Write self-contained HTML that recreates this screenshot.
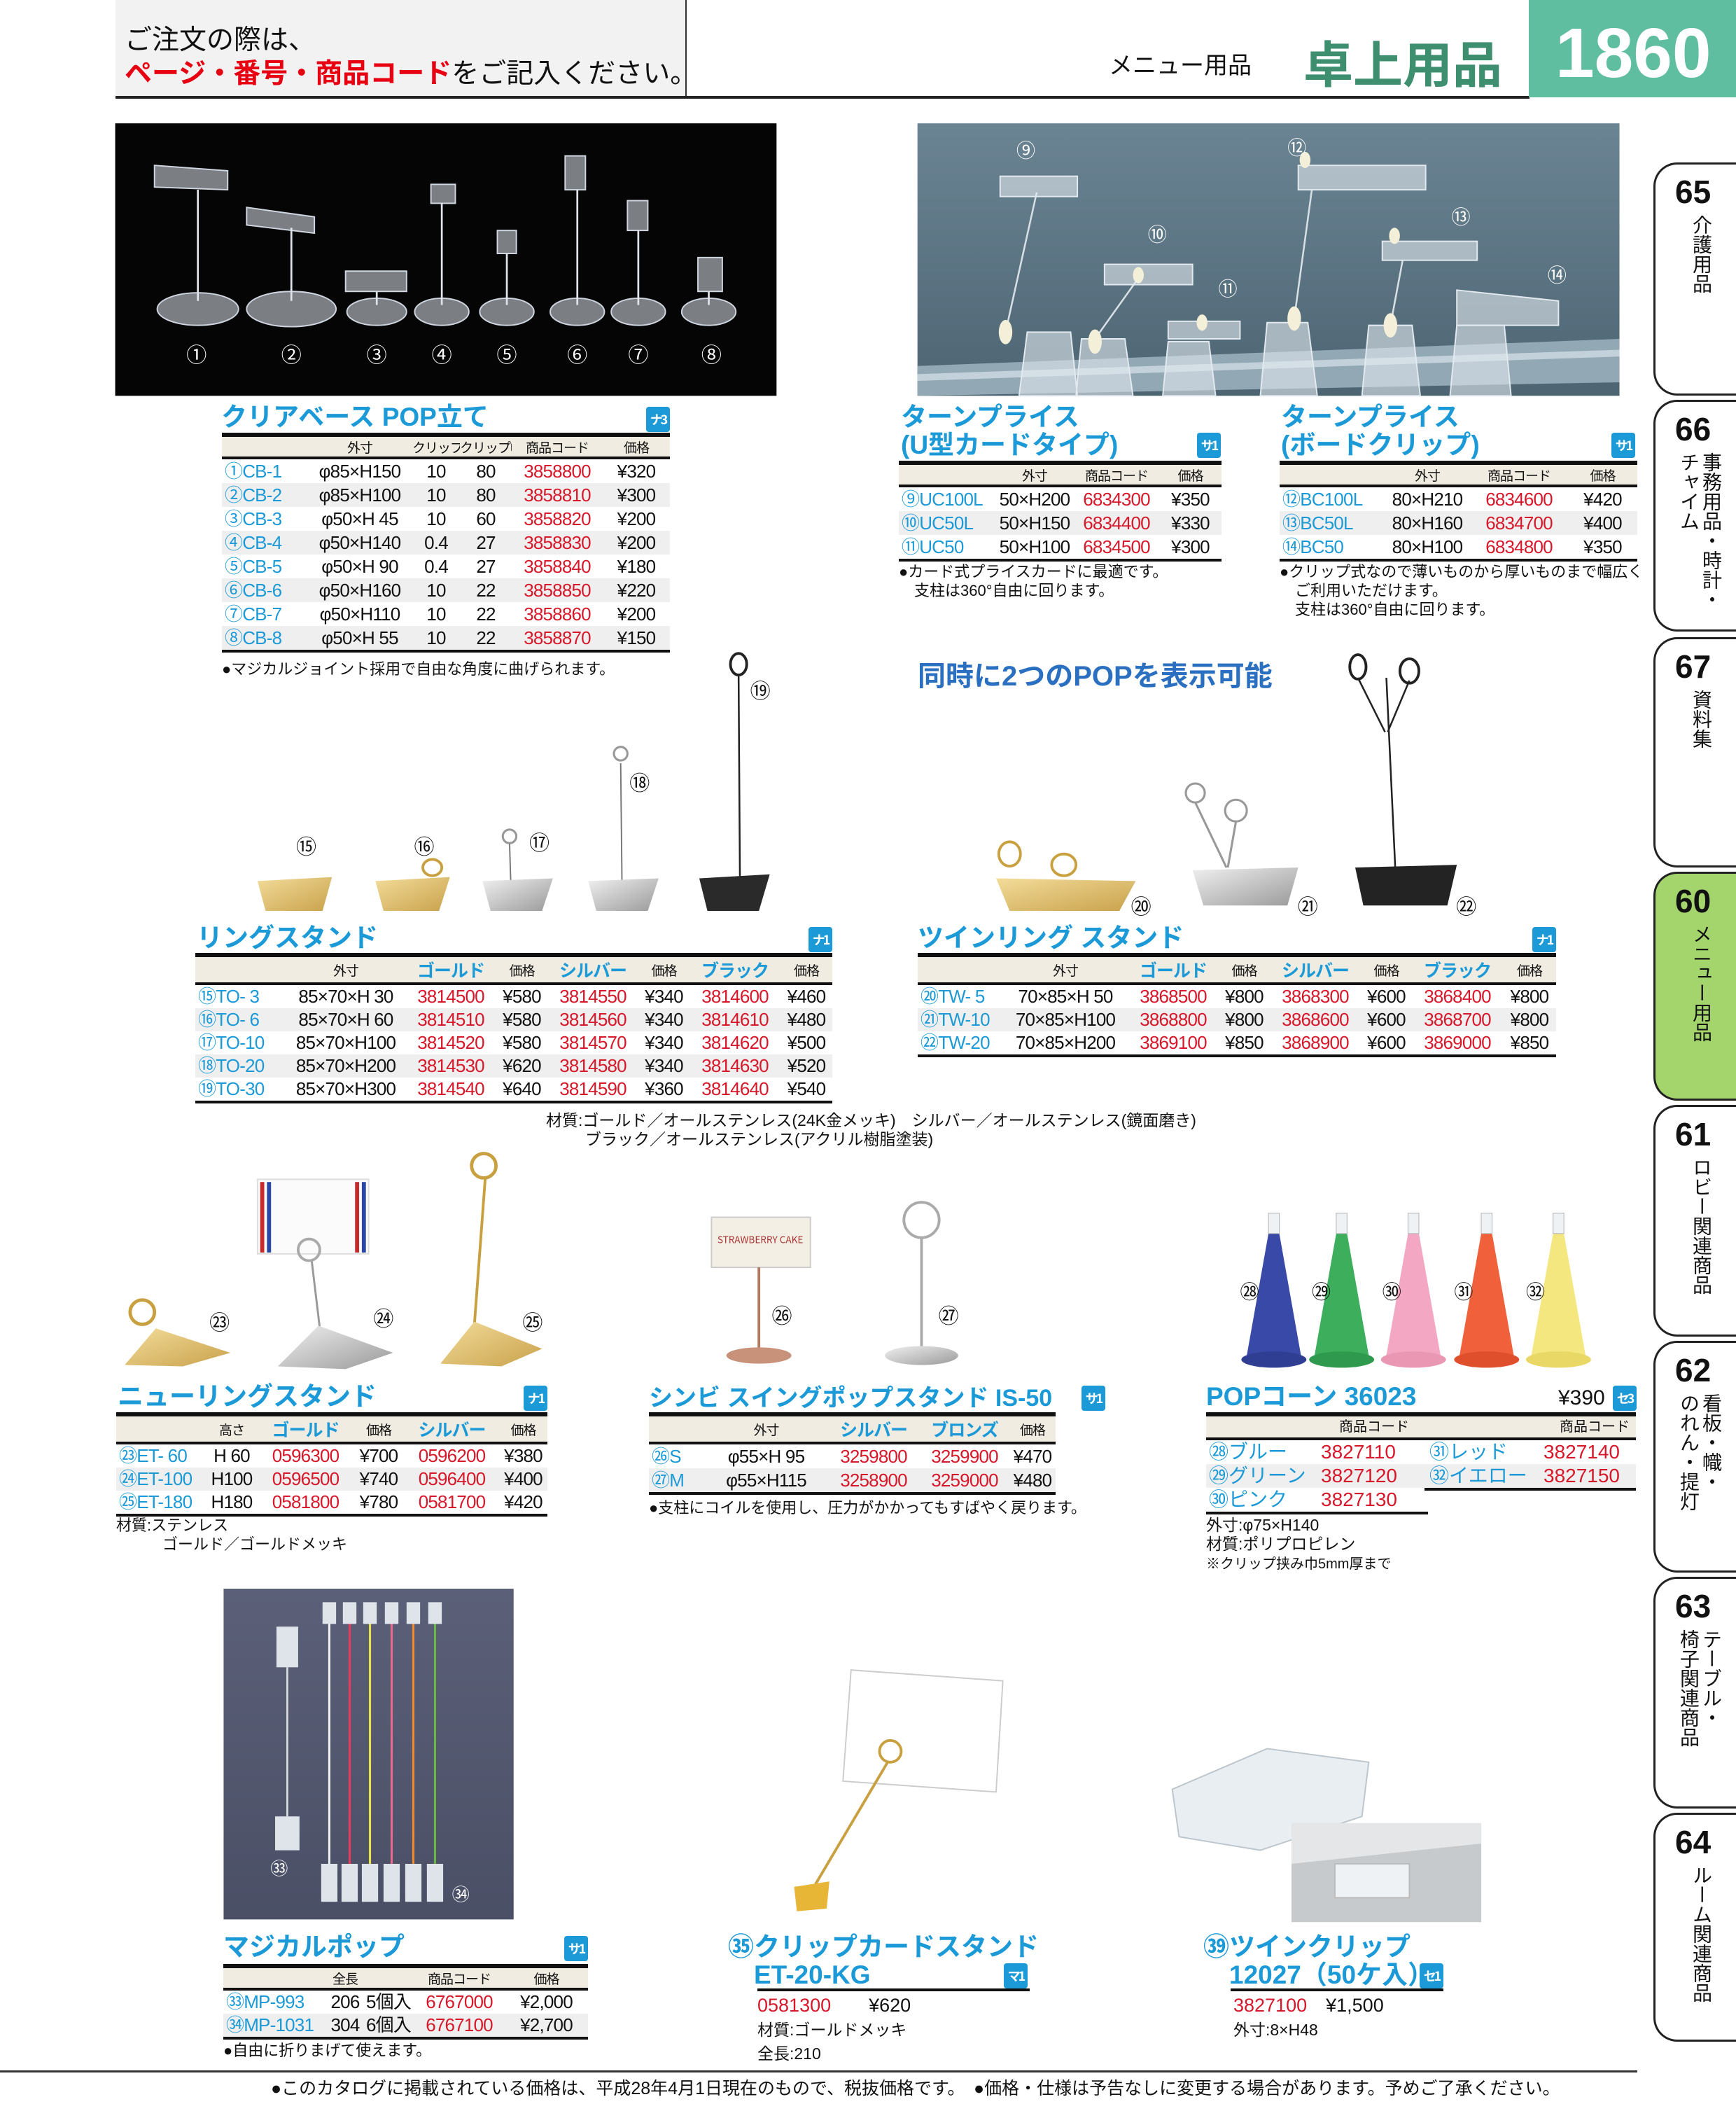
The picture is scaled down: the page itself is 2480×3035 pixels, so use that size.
<!DOCTYPE html>
<html><head><meta charset="utf-8">
<style>
*{margin:0;padding:0;box-sizing:border-box}
body{width:2480px;height:3035px;position:relative;background:#fff;overflow:hidden;font-family:"Liberation Sans","Noto Sans CJK JP",sans-serif;color:#111}
.a{position:absolute;white-space:nowrap}
.ti{position:absolute;white-space:nowrap;color:#1b9ad7;font-weight:bold;font-size:37px;line-height:40px;font-family:"Liberation Sans","Noto Sans CJK JP",sans-serif}
.bd{position:absolute;background:#1b9ad7;color:#fff;font-size:18px;font-weight:bold;border-radius:4px;width:34px;height:36px;text-align:center;line-height:36px;white-space:nowrap;letter-spacing:-3px;overflow:hidden;font-family:"Liberation Sans Narrow","Noto Sans CJK JP",sans-serif}
.tb{position:absolute;border-top:6px solid #111;border-bottom:4px solid #111;font-family:"Liberation Sans Narrow","Liberation Sans","Noto Sans CJK JP",sans-serif}
.tb table{border-collapse:collapse;width:100%;table-layout:fixed}
.tb th{height:30px;background:#f1ece1;font-weight:normal;font-size:19px;border-bottom:4px solid #111;white-space:nowrap;padding:0;overflow:hidden;letter-spacing:-1px}
.tb th.b{color:#1b9ad7;font-weight:bold;font-size:25px}
.tb td{font-size:26px;letter-spacing:-0.8px;white-space:nowrap;padding:0;overflow:hidden;text-align:center}
.tb tbody tr:nth-child(even) td{background:#efefef}
.tb td.n{color:#1b9ad7;text-align:left;padding-left:4px}
.tb td.c{color:#d7182a}
.nt{position:absolute;font-size:22px;line-height:27px;white-space:nowrap;font-family:"Liberation Sans","Noto Sans CJK JP",sans-serif}
.tab{position:absolute;left:2362px;width:130px;border:3px solid #222;border-right:none;border-radius:34px 0 0 34px;background:#fff}
.tab .num{position:absolute;left:28px;top:14px;font-size:46px;font-weight:bold;font-family:"Liberation Sans Narrow","Liberation Sans",sans-serif;line-height:50px}
.tab .lb{position:absolute;right:44px;top:72px;writing-mode:vertical-rl;font-size:28px;line-height:32px;font-family:"Noto Sans CJK JP",sans-serif}
</style></head><body>

<div class="a" style="left:165px;top:0;width:816px;height:139px;background:#f2f2f2;border-right:2px solid #333"></div>
<div class="a" style="left:165px;top:137px;width:2020px;height:4px;background:#222"></div>
<div class="a" style="left:178px;top:36px;font-size:39px;line-height:44px">ご注文の際は、</div>
<div class="a" style="left:178px;top:84px;font-size:39px;line-height:44px;font-weight:bold;color:#e60012">ページ・番号・商品コード<span style="color:#111;font-weight:normal">をご記入ください。</span></div>
<div class="a" style="left:1584px;top:74px;font-size:34px;line-height:40px">メニュー用品</div>
<div class="a" style="left:1862px;top:50px;font-size:71px;line-height:76px;font-weight:bold;color:#3d8f6f;font-family:'Noto Sans CJK JP',sans-serif">卓上用品</div>
<div class="a" style="left:2184px;top:0;width:296px;height:139px;background:#5fbe9f"></div>
<div class="a" style="left:2222px;top:26px;font-size:100px;line-height:100px;font-weight:bold;color:#fff">1860</div>

<div class="tab" style="top:232px;height:333px"><div class="num">65</div><div class="lb">介護用品</div></div>
<div class="tab" style="top:571px;height:331px"><div class="num">66</div><div class="lb" style="right:30px">事務用品・時計・<br>チャイム</div></div>
<div class="tab" style="top:910px;height:329px"><div class="num">67</div><div class="lb">資料集</div></div>
<div class="tab" style="top:1245px;height:327px;background:#a3d56c"><div class="num">60</div><div class="lb">メニュー用品</div></div>
<div class="tab" style="top:1578px;height:331px"><div class="num">61</div><div class="lb">ロビー関連商品</div></div>
<div class="tab" style="top:1915px;height:331px"><div class="num">62</div><div class="lb" style="right:30px">看板・幟・<br>のれん・提灯</div></div>
<div class="tab" style="top:2252px;height:331px"><div class="num">63</div><div class="lb" style="right:30px">テーブル・<br>椅子関連商品</div></div>
<div class="tab" style="top:2589px;height:327px"><div class="num">64</div><div class="lb">ルーム関連商品</div></div>

<svg class="a" style="left:0;top:0" width="2480" height="3035" viewBox="0 0 2480 3035">
<defs>
<linearGradient id="bg2" x1="0" y1="0" x2="0" y2="1"><stop offset="0" stop-color="#6b8493"/><stop offset="1" stop-color="#4d6573"/></linearGradient>
<linearGradient id="mp" x1="0" y1="0" x2="0" y2="1"><stop offset="0" stop-color="#5b6078"/><stop offset="1" stop-color="#4a4f66"/></linearGradient>
<linearGradient id="gold" x1="0" y1="0" x2="1" y2="1"><stop offset="0" stop-color="#f3dc9a"/><stop offset="1" stop-color="#c9a24c"/></linearGradient>
<linearGradient id="silv" x1="0" y1="0" x2="1" y2="1"><stop offset="0" stop-color="#f0f0f0"/><stop offset="1" stop-color="#9a9a9a"/></linearGradient>
</defs>
<g transform="scale(1.936)" font-family="Noto Sans CJK JP, sans-serif">
<rect x="85" y="91" width="488" height="201" fill="#050506"/>
<g fill="rgba(220,225,235,0.55)" stroke="#cfd6e0" stroke-width="1">
<ellipse cx="146" cy="228" rx="30" ry="12"/><ellipse cx="215" cy="228" rx="33" ry="13"/><ellipse cx="278" cy="230" rx="22" ry="10"/>
<ellipse cx="326" cy="230" rx="20" ry="10"/><ellipse cx="374" cy="230" rx="20" ry="10"/><ellipse cx="426" cy="230" rx="20" ry="10"/>
<ellipse cx="471" cy="230" rx="20" ry="10"/><ellipse cx="523" cy="230" rx="20" ry="10"/>
<path d="M114 122 L168 126 L168 140 L114 138Z"/><path d="M182 153 L232 160 L232 172 L182 166Z"/><rect x="255" y="200" width="45" height="15"/>
<rect x="318" y="136" width="18" height="14"/><rect x="367" y="170" width="14" height="17"/><rect x="417" y="115" width="15" height="25"/>
<rect x="463" y="148" width="15" height="22"/><rect x="515" y="190" width="18" height="25"/>
</g>
<g stroke="#dfe4ea" stroke-width="1.4"><line x1="146" y1="222" x2="146" y2="140"/><line x1="215" y1="222" x2="215" y2="168"/><line x1="278" y1="225" x2="278" y2="215"/><line x1="326" y1="225" x2="326" y2="150"/><line x1="374" y1="225" x2="374" y2="187"/><line x1="426" y1="225" x2="426" y2="140"/><line x1="471" y1="225" x2="471" y2="170"/><line x1="523" y1="225" x2="523" y2="215"/></g>
<g fill="#fff" font-size="15" text-anchor="middle"><text x="145" y="267">①</text><text x="215" y="267">②</text><text x="278" y="267">③</text><text x="326" y="267">④</text><text x="374" y="267">⑤</text><text x="426" y="267">⑥</text><text x="471" y="267">⑦</text><text x="525" y="267">⑧</text></g>
<rect x="677" y="91" width="518" height="201" fill="url(#bg2)"/>
<path d="M677 270 L1195 250 L1195 282 L677 292Z" fill="#93a8b5"/>
<path d="M677 276 L1195 258 L1195 263 L677 281Z" fill="#c3d2da"/>
<g stroke="#d8e0e6" stroke-width="1.3"><line x1="765" y1="142" x2="742" y2="245"/><line x1="838" y1="208" x2="808" y2="250"/><line x1="968" y1="140" x2="955" y2="235"/><line x1="1035" y1="192" x2="1026" y2="240"/></g>
<g fill="rgba(225,232,238,0.6)" stroke="#e3eaef" stroke-width="1">
<rect x="738" y="130" width="57" height="15"/><rect x="815" y="195" width="65" height="15"/><rect x="862" y="237" width="53" height="13"/>
<rect x="958" y="122" width="94" height="18"/><rect x="1020" y="178" width="70" height="14"/><path d="M1075 214 L1150 222 L1150 240 L1075 240Z"/>
<path d="M758 245 L790 245 L795 292 L752 292Z"/><path d="M798 250 L830 250 L836 292 L794 292Z"/><path d="M862 252 L892 252 L897 292 L858 292Z"/>
<path d="M935 238 L965 238 L972 292 L930 292Z"/><path d="M1010 240 L1042 240 L1048 292 L1005 292Z"/><path d="M1075 240 L1110 240 L1115 292 L1070 292Z"/>
</g>
<g fill="#f4efd8"><ellipse cx="742" cy="245" rx="5" ry="9"/><ellipse cx="808" cy="252" rx="5" ry="9"/><ellipse cx="955" cy="235" rx="5" ry="9"/><ellipse cx="1026" cy="240" rx="5" ry="9"/><ellipse cx="840" cy="203" rx="4" ry="6"/><ellipse cx="887" cy="238" rx="4" ry="6"/><ellipse cx="963" cy="118" rx="4" ry="6"/><ellipse cx="1029" cy="174" rx="4" ry="6"/></g>
<g fill="#fff" font-size="14" text-anchor="middle"><text x="757" y="116">⑨</text><text x="854" y="178">⑩</text><text x="906" y="218">⑪</text><text x="957" y="114">⑫</text><text x="1078" y="165">⑬</text><text x="1149" y="208">⑭</text></g>

<g stroke="#777" stroke-width="1"><line x1="376" y1="622" x2="377" y2="655"/><line x1="458" y1="563" x2="459" y2="655"/></g>
<g stroke="#222" stroke-width="1.3"><line x1="545" y1="497" x2="546" y2="650"/><line x1="1023" y1="500" x2="1030" y2="650"/><line x1="1002" y1="500" x2="1022" y2="540"/><line x1="1040" y1="502" x2="1024" y2="540"/></g>
<g fill="none" stroke="#999" stroke-width="1.6"><circle cx="376" cy="617" r="5"/><circle cx="458" cy="556" r="5"/><circle cx="882" cy="585" r="7"/><circle cx="912" cy="598" r="8"/><path d="M882 592 L905 640 M912 606 L906 640"/></g>
<g fill="none" stroke="#222" stroke-width="2"><ellipse cx="545" cy="490" rx="6" ry="8"/><ellipse cx="1002" cy="492" rx="6" ry="9"/><ellipse cx="1040" cy="495" rx="7" ry="9"/></g>
<g fill="none" stroke="#c9a040" stroke-width="2"><ellipse cx="745" cy="630" rx="8" ry="9"/><ellipse cx="785" cy="638" rx="9" ry="8"/><ellipse cx="319" cy="640" rx="7" ry="6"/></g>
<path d="M190 650 L245 647 L238 672 L196 672Z" fill="url(#gold)"/>
<path d="M277 650 L332 647 L324 672 L283 672Z" fill="url(#gold)"/>
<path d="M356 650 L408 648 L400 672 L362 672Z" fill="url(#silv)"/>
<path d="M434 650 L486 648 L478 672 L440 672Z" fill="url(#silv)"/>
<path d="M516 648 L568 645 L560 672 L522 672Z" fill="#2a2a2a"/>
<path d="M735 648 L838 650 L826 672 L745 672Z" fill="url(#gold)"/>
<path d="M880 642 L958 640 L950 668 L888 668Z" fill="url(#silv)"/>
<path d="M1000 640 L1075 638 L1068 668 L1006 668Z" fill="#232323"/>
<g font-size="15" text-anchor="middle" fill="#111"><text x="226" y="630">⑮</text><text x="313" y="630">⑯</text><text x="398" y="627">⑰</text><text x="472" y="583">⑱</text><text x="561" y="515">⑲</text><text x="842" y="674">⑳</text><text x="965" y="674">㉑</text><text x="1082" y="674">㉒</text></g>

<rect x="190" y="870" width="82" height="55" fill="#fbfbfb" stroke="#ddd"/>
<rect x="192" y="872" width="3" height="52" fill="#c62a2a"/><rect x="197" y="872" width="3" height="52" fill="#2a47a8"/>
<rect x="262" y="872" width="3" height="52" fill="#c62a2a"/><rect x="267" y="872" width="3" height="52" fill="#2a47a8"/>
<line x1="230" y1="930" x2="236" y2="980" stroke="#999" stroke-width="1.5"/>
<circle cx="228" cy="922" r="8" fill="none" stroke="#aaa" stroke-width="2"/>
<line x1="358" y1="870" x2="350" y2="978" stroke="#c9a040" stroke-width="2"/>
<circle cx="357" cy="860" r="9" fill="none" stroke="#c9a040" stroke-width="2.5"/>
<circle cx="105" cy="968" r="9" fill="none" stroke="#c9a040" stroke-width="2.5"/>
<path d="M92 1007 L115 980 L170 998 L135 1008Z" fill="url(#gold)"/>
<path d="M205 1008 L235 978 L290 998 L255 1010Z" fill="url(#silv)"/>
<path d="M325 1006 L350 975 L400 995 L370 1008Z" fill="url(#gold)"/>
<rect x="525" y="898" width="73" height="37" fill="#f4efe4" stroke="#ccc"/>
<text x="561" y="917" font-size="7" text-anchor="middle" fill="#a33">STRAWBERRY CAKE</text>
<line x1="560" y1="935" x2="560" y2="995" stroke="#b07a60" stroke-width="2"/>
<ellipse cx="560" cy="1000" rx="24" ry="6" fill="#c8917a"/>
<circle cx="680" cy="900" r="13" fill="none" stroke="#aaa" stroke-width="2"/>
<line x1="680" y1="913" x2="680" y2="995" stroke="#aaa" stroke-width="2"/>
<ellipse cx="680" cy="1000" rx="27" ry="7" fill="url(#silv)"/>
<g font-size="15" text-anchor="middle" fill="#111"><text x="162" y="981">㉓</text><text x="283" y="978">㉔</text><text x="393" y="981">㉕</text><text x="577" y="976">㉖</text><text x="700" y="976">㉗</text></g>
<g>
<path d="M936 910 L944 910 L960 1000 L920 1000Z" fill="#3949a8"/><ellipse cx="940" cy="1003" rx="24" ry="6" fill="#2f3d92"/>
<path d="M986 910 L994 910 L1010 1000 L970 1000Z" fill="#3cae5c"/><ellipse cx="990" cy="1003" rx="24" ry="6" fill="#2f9a4d"/>
<path d="M1039 910 L1047 910 L1063 1000 L1023 1000Z" fill="#f3a7c2"/><ellipse cx="1043" cy="1003" rx="24" ry="6" fill="#e997b2"/>
<path d="M1093 910 L1101 910 L1117 1000 L1077 1000Z" fill="#f0603b"/><ellipse cx="1097" cy="1003" rx="24" ry="6" fill="#e04f2c"/>
<path d="M1146 910 L1154 910 L1170 1000 L1130 1000Z" fill="#f4e77f"/><ellipse cx="1150" cy="1003" rx="24" ry="6" fill="#e9d866"/>
<g fill="#eef2f5" stroke="#bbb" stroke-width=".6"><rect x="936" y="895" width="8" height="15"/><rect x="986" y="895" width="8" height="15"/><rect x="1039" y="895" width="8" height="15"/><rect x="1093" y="895" width="8" height="15"/><rect x="1146" y="895" width="8" height="15"/></g>
</g>
<g font-size="14" text-anchor="middle" fill="#111"><text x="922" y="958">㉘</text><text x="975" y="958">㉙</text><text x="1027" y="958">㉚</text><text x="1080" y="958">㉛</text><text x="1133" y="958">㉜</text></g>

<rect x="165" y="1172" width="214" height="244" fill="url(#mp)"/>
<line x1="212" y1="1230" x2="212" y2="1340" stroke="#ddd" stroke-width="1.4"/>
<rect x="204" y="1200" width="16" height="30" fill="#dfe3ea"/><rect x="203" y="1340" width="18" height="25" fill="#dfe3ea"/>
<g stroke-width="1.6"><line x1="243" y1="1195" x2="243" y2="1375" stroke="#eee"/><line x1="258" y1="1195" x2="258" y2="1375" stroke="#e83a5c"/><line x1="273" y1="1195" x2="273" y2="1375" stroke="#e7e14a"/><line x1="289" y1="1195" x2="289" y2="1375" stroke="#e86a8c"/><line x1="305" y1="1195" x2="305" y2="1375" stroke="#f08a2a"/><line x1="321" y1="1195" x2="321" y2="1375" stroke="#69b845"/></g>
<g fill="#dfe3ea"><rect x="238" y="1182" width="10" height="16"/><rect x="253" y="1182" width="10" height="16"/><rect x="268" y="1182" width="10" height="16"/><rect x="284" y="1182" width="10" height="16"/><rect x="300" y="1182" width="10" height="16"/><rect x="316" y="1182" width="10" height="16"/>
<rect x="237" y="1375" width="12" height="28"/><rect x="252" y="1375" width="12" height="28"/><rect x="267" y="1375" width="12" height="28"/><rect x="283" y="1375" width="12" height="28"/><rect x="299" y="1375" width="12" height="28"/><rect x="315" y="1375" width="12" height="28"/></g>
<g fill="#fff" font-size="13" text-anchor="middle"><text x="206" y="1383">㉝</text><text x="340" y="1402">㉞</text></g>
<path d="M628 1232 L740 1240 L735 1322 L622 1314Z" fill="#fff" stroke="#ccc" stroke-width="1"/>
<circle cx="657" cy="1292" r="8" fill="none" stroke="#c9a040" stroke-width="2"/>
<line x1="655" y1="1300" x2="600" y2="1393" stroke="#c9a040" stroke-width="2"/>
<path d="M586 1392 L612 1388 L610 1408 L588 1410Z" fill="#e7b637"/>
<path d="M865 1320 L935 1290 L1010 1300 L1005 1340 L930 1365 L870 1355Z" fill="#e9eef2" stroke="#bcc5cc"/>
<rect x="953" y="1345" width="140" height="73" fill="#c7cacc"/>
<path d="M953 1345 L1093 1345 L1093 1360 L953 1375Z" fill="#e4e6e8"/>
<rect x="985" y="1375" width="55" height="25" fill="#eef2f5" stroke="#bbb"/>
</g>
</svg>

<div class="ti" style="left:316px;top:576px">クリアベース POP立て</div>
<div class="bd" style="left:923px;top:581px">ナ3</div>
<div class="tb" style="left:317px;top:618px;width:640px"><table>
<colgroup><col style="width:122px"><col style="width:150px"><col style="width:68px"><col style="width:74px"><col style="width:130px"><col style="width:96px"></colgroup>
<thead><tr><th></th><th>外寸</th><th>クリップ開口</th><th>クリップ幅</th><th>商品コード</th><th>価格</th></tr></thead>
<tbody style="line-height:34px">
<tr><td class="n">①CB-1</td><td>φ85×H150</td><td>10</td><td>80</td><td class="c">3858800</td><td>¥320</td></tr>
<tr><td class="n">②CB-2</td><td>φ85×H100</td><td>10</td><td>80</td><td class="c">3858810</td><td>¥300</td></tr>
<tr><td class="n">③CB-3</td><td>φ50×H 45</td><td>10</td><td>60</td><td class="c">3858820</td><td>¥200</td></tr>
<tr><td class="n">④CB-4</td><td>φ50×H140</td><td>0.4</td><td>27</td><td class="c">3858830</td><td>¥200</td></tr>
<tr><td class="n">⑤CB-5</td><td>φ50×H 90</td><td>0.4</td><td>27</td><td class="c">3858840</td><td>¥180</td></tr>
<tr><td class="n">⑥CB-6</td><td>φ50×H160</td><td>10</td><td>22</td><td class="c">3858850</td><td>¥220</td></tr>
<tr><td class="n">⑦CB-7</td><td>φ50×H110</td><td>10</td><td>22</td><td class="c">3858860</td><td>¥200</td></tr>
<tr><td class="n">⑧CB-8</td><td>φ50×H 55</td><td>10</td><td>22</td><td class="c">3858870</td><td>¥150</td></tr>
</tbody></table></div>
<div class="nt" style="left:317px;top:942px">●マジカルジョイント採用で自由な角度に曲げられます。</div>

<div class="ti" style="left:1287px;top:576px">ターンプライス<br>(U型カードタイプ)</div>
<div class="bd" style="left:1710px;top:618px">サ1</div>
<div class="tb" style="left:1284px;top:658px;width:461px"><table>
<colgroup><col style="width:138px"><col style="width:112px"><col style="width:122px"><col style="width:89px"></colgroup>
<thead><tr><th></th><th>外寸</th><th>商品コード</th><th>価格</th></tr></thead>
<tbody style="line-height:34px">
<tr><td class="n">⑨UC100L</td><td>50×H200</td><td class="c">6834300</td><td>¥350</td></tr>
<tr><td class="n">⑩UC50L</td><td>50×H150</td><td class="c">6834400</td><td>¥330</td></tr>
<tr><td class="n">⑪UC50</td><td>50×H100</td><td class="c">6834500</td><td>¥300</td></tr>
</tbody></table></div>
<div class="nt" style="left:1284px;top:803px">●カード式プライスカードに最適です。<br>　支柱は360°自由に回ります。</div>

<div class="ti" style="left:1830px;top:576px">ターンプライス<br>(ボードクリップ)</div>
<div class="bd" style="left:2302px;top:618px">サ1</div>
<div class="tb" style="left:1828px;top:658px;width:511px"><table>
<colgroup><col style="width:150px"><col style="width:122px"><col style="width:140px"><col style="width:99px"></colgroup>
<thead><tr><th></th><th>外寸</th><th>商品コード</th><th>価格</th></tr></thead>
<tbody style="line-height:34px">
<tr><td class="n">⑫BC100L</td><td>80×H210</td><td class="c">6834600</td><td>¥420</td></tr>
<tr><td class="n">⑬BC50L</td><td>80×H160</td><td class="c">6834700</td><td>¥400</td></tr>
<tr><td class="n">⑭BC50</td><td>80×H100</td><td class="c">6834800</td><td>¥350</td></tr>
</tbody></table></div>
<div class="nt" style="left:1828px;top:803px">●クリップ式なので薄いものから厚いものまで幅広く<br>　ご利用いただけます。<br>　支柱は360°自由に回ります。</div>

<div class="a" style="left:1311px;top:942px;font-size:40px;line-height:48px;font-weight:bold;color:#2b6fc0">同時に2つのPOPを表示可能</div>

<div class="ti" style="left:281px;top:1320px">リングスタンド</div>
<div class="bd" style="left:1155px;top:1324px">ナ1</div>
<div class="tb" style="left:279px;top:1361px;width:910px"><table>
<colgroup><col style="width:130px"><col style="width:170px"><col style="width:130px"><col style="width:73px"><col style="width:130px"><col style="width:73px"><col style="width:130px"><col style="width:74px"></colgroup>
<thead><tr><th></th><th>外寸</th><th class="b">ゴールド</th><th>価格</th><th class="b">シルバー</th><th>価格</th><th class="b">ブラック</th><th>価格</th></tr></thead>
<tbody style="line-height:33px">
<tr><td class="n">⑮TO- 3</td><td>85×70×H 30</td><td class="c">3814500</td><td>¥580</td><td class="c">3814550</td><td>¥340</td><td class="c">3814600</td><td>¥460</td></tr>
<tr><td class="n">⑯TO- 6</td><td>85×70×H 60</td><td class="c">3814510</td><td>¥580</td><td class="c">3814560</td><td>¥340</td><td class="c">3814610</td><td>¥480</td></tr>
<tr><td class="n">⑰TO-10</td><td>85×70×H100</td><td class="c">3814520</td><td>¥580</td><td class="c">3814570</td><td>¥340</td><td class="c">3814620</td><td>¥500</td></tr>
<tr><td class="n">⑱TO-20</td><td>85×70×H200</td><td class="c">3814530</td><td>¥620</td><td class="c">3814580</td><td>¥340</td><td class="c">3814630</td><td>¥520</td></tr>
<tr><td class="n">⑲TO-30</td><td>85×70×H300</td><td class="c">3814540</td><td>¥640</td><td class="c">3814590</td><td>¥360</td><td class="c">3814640</td><td>¥540</td></tr>
</tbody></table></div>

<div class="ti" style="left:1311px;top:1320px">ツインリング スタンド</div>
<div class="bd" style="left:2189px;top:1324px">ナ1</div>
<div class="tb" style="left:1311px;top:1361px;width:912px"><table>
<colgroup><col style="width:122px"><col style="width:178px"><col style="width:130px"><col style="width:73px"><col style="width:130px"><col style="width:73px"><col style="width:130px"><col style="width:76px"></colgroup>
<thead><tr><th></th><th>外寸</th><th class="b">ゴールド</th><th>価格</th><th class="b">シルバー</th><th>価格</th><th class="b">ブラック</th><th>価格</th></tr></thead>
<tbody style="line-height:33px">
<tr><td class="n">⑳TW- 5</td><td>70×85×H 50</td><td class="c">3868500</td><td>¥800</td><td class="c">3868300</td><td>¥600</td><td class="c">3868400</td><td>¥800</td></tr>
<tr><td class="n">㉑TW-10</td><td>70×85×H100</td><td class="c">3868800</td><td>¥800</td><td class="c">3868600</td><td>¥600</td><td class="c">3868700</td><td>¥800</td></tr>
<tr><td class="n">㉒TW-20</td><td>70×85×H200</td><td class="c">3869100</td><td>¥850</td><td class="c">3868900</td><td>¥600</td><td class="c">3869000</td><td>¥850</td></tr>
</tbody></table></div>
<div class="nt" style="left:780px;top:1587px;font-size:23px">材質:ゴールド／オールステンレス(24K金メッキ)　シルバー／オールステンレス(鏡面磨き)</div>
<div class="nt" style="left:836px;top:1614px;font-size:23px">ブラック／オールステンレス(アクリル樹脂塗装)</div>

<div class="ti" style="left:168px;top:1975px">ニューリングスタンド</div>
<div class="bd" style="left:748px;top:1979px">ナ1</div>
<div class="tb" style="left:166px;top:2017px;width:616px"><table>
<colgroup><col style="width:127px"><col style="width:76px"><col style="width:135px"><col style="width:74px"><col style="width:135px"><col style="width:69px"></colgroup>
<thead><tr><th></th><th>高さ</th><th class="b">ゴールド</th><th>価格</th><th class="b">シルバー</th><th>価格</th></tr></thead>
<tbody style="line-height:33px">
<tr><td class="n">㉓ET- 60</td><td>H 60</td><td class="c">0596300</td><td>¥700</td><td class="c">0596200</td><td>¥380</td></tr>
<tr><td class="n">㉔ET-100</td><td>H100</td><td class="c">0596500</td><td>¥740</td><td class="c">0596400</td><td>¥400</td></tr>
<tr><td class="n">㉕ET-180</td><td>H180</td><td class="c">0581800</td><td>¥780</td><td class="c">0581700</td><td>¥420</td></tr>
</tbody></table></div>
<div class="nt" style="left:166px;top:2165px">材質:ステンレス<br>　　　ゴールド／ゴールドメッキ</div>

<div class="ti" style="left:927px;top:1977px;font-size:34px">シンビ スイングポップスタンド IS-50</div>
<div class="bd" style="left:1545px;top:1979px">サ1</div>
<div class="tb" style="left:927px;top:2017px;width:581px"><table>
<colgroup><col style="width:80px"><col style="width:175px"><col style="width:132px"><col style="width:128px"><col style="width:66px"></colgroup>
<thead><tr><th></th><th>外寸</th><th class="b">シルバー</th><th class="b">ブロンズ</th><th>価格</th></tr></thead>
<tbody style="line-height:34px">
<tr><td class="n">㉖S</td><td>φ55×H 95</td><td class="c">3259800</td><td class="c">3259900</td><td>¥470</td></tr>
<tr><td class="n">㉗M</td><td>φ55×H115</td><td class="c">3258900</td><td class="c">3259000</td><td>¥480</td></tr>
</tbody></table></div>
<div class="nt" style="left:927px;top:2140px">●支柱にコイルを使用し、圧力がかかってもすばやく戻ります。</div>

<div class="ti" style="left:1723px;top:1975px">POPコーン 36023</div>
<div class="a" style="left:2226px;top:1980px;font-size:30px;line-height:34px;font-family:'Liberation Sans Narrow','Liberation Sans',sans-serif">¥390</div>
<div class="bd" style="left:2304px;top:1979px">セ3</div>
<div class="a" style="left:1723px;top:2017px;width:614px;height:6px;background:#111"></div>
<div class="a" style="left:1723px;top:2023px;width:614px;height:30px;background:#f1ece1;font-size:20px;line-height:30px"><span class="a" style="left:190px">商品コード</span><span class="a" style="left:505px">商品コード</span></div>
<div class="a" style="left:1723px;top:2053px;width:614px;height:4px;background:#111"></div>
<div class="a" style="left:1723px;top:2091px;width:614px;height:34px;background:#efefef"></div>
<div class="a" style="left:2035px;top:2125px;width:302px;height:4px;background:#111"></div>
<div class="a" style="left:1723px;top:2159px;width:317px;height:4px;background:#111"></div>
<div class="a" style="left:1727px;top:2057px;font-size:28px;line-height:34px;color:#1b9ad7">㉘ブルー<br>㉙グリーン<br>㉚ピンク</div>
<div class="a" style="left:1887px;top:2057px;font-size:28px;line-height:34px;color:#d7182a;font-family:'Liberation Sans Narrow','Liberation Sans',sans-serif">3827110<br>3827120<br>3827130</div>
<div class="a" style="left:2042px;top:2057px;font-size:28px;line-height:34px;color:#1b9ad7">㉛レッド<br>㉜イエロー</div>
<div class="a" style="left:2205px;top:2057px;font-size:28px;line-height:34px;color:#d7182a;font-family:'Liberation Sans Narrow','Liberation Sans',sans-serif">3827140<br>3827150</div>
<div class="nt" style="left:1723px;top:2165px;font-size:23px;line-height:27px">外寸:φ75×H140<br>材質:ポリプロピレン<br><span style="font-size:20px">※クリップ挟み巾5mm厚まで</span></div>

<div class="ti" style="left:319px;top:2761px">マジカルポップ</div>
<div class="bd" style="left:806px;top:2765px">サ1</div>
<div class="tb" style="left:319px;top:2805px;width:521px"><table>
<colgroup><col style="width:148px"><col style="width:52px"><col style="width:72px"><col style="width:130px"><col style="width:119px"></colgroup>
<thead><tr><th></th><th>全長</th><th></th><th>商品コード</th><th>価格</th></tr></thead>
<tbody style="line-height:33px">
<tr><td class="n">㉝MP-993</td><td>206</td><td>5個入</td><td class="c">6767000</td><td>¥2,000</td></tr>
<tr><td class="n">㉞MP-1031</td><td>304</td><td>6個入</td><td class="c">6767100</td><td>¥2,700</td></tr>
</tbody></table></div>
<div class="nt" style="left:319px;top:2915px">●自由に折りまげて使えます。</div>

<div class="ti" style="left:1040px;top:2761px">㉟クリップカードスタンド<br>　ET-20-KG</div>
<div class="bd" style="left:1434px;top:2804px">マ1</div>
<div class="a" style="left:1082px;top:2840px;width:389px;height:4px;background:#111"></div>
<div class="a" style="left:1082px;top:2848px;font-size:27px;line-height:32px"><span style="color:#d7182a">0581300</span>　　¥620</div>
<div class="nt" style="left:1082px;top:2882px;font-size:23px;line-height:34px">材質:ゴールドメッキ<br>全長:210</div>

<div class="ti" style="left:1719px;top:2761px">㊴ツインクリップ<br>　12027（50ケ入）</div>
<div class="bd" style="left:2028px;top:2804px">セ1</div>
<div class="a" style="left:1758px;top:2840px;width:304px;height:4px;background:#111"></div>
<div class="a" style="left:1762px;top:2848px;font-size:27px;line-height:32px"><span style="color:#d7182a">3827100</span>　¥1,500</div>
<div class="nt" style="left:1762px;top:2882px;font-size:23px;line-height:34px">外寸:8×H48</div>

<div class="a" style="left:0;top:2957px;width:2339px;height:3px;background:#333"></div>
<div class="a" style="left:387px;top:2968px;font-size:25px;line-height:30px">●このカタログに掲載されている価格は、平成28年4月1日現在のもので、税抜価格です。　●価格・仕様は予告なしに変更する場合があります。予めご了承ください。</div>
</body></html>
